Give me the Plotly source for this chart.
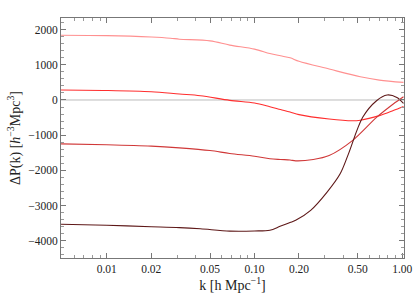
import plotly.graph_objects as go

k1 = [0.0049, 0.01, 0.02, 0.027, 0.031, 0.05, 0.068, 0.1, 0.127, 0.15, 0.174, 0.2, 0.32, 0.52, 0.7, 1.02]
v1 = [1840, 1830, 1790, 1756, 1728, 1680, 1560, 1445, 1320, 1255, 1200, 1100, 880, 660, 566, 500]

k2 = [0.0049, 0.01, 0.02, 0.031, 0.043, 0.068, 0.1, 0.127, 0.15, 0.174, 0.2, 0.32, 0.46, 0.52, 0.7, 0.87, 1.02]
v2 = [283, 270, 235, 170, 122, -10, -85, -190, -270, -340, -416, -540, -590, -575, -445, -300, -185]

k3 = [0.0049, 0.01, 0.02, 0.031, 0.05, 0.068, 0.1, 0.127, 0.15, 0.174, 0.19, 0.25, 0.32, 0.46, 0.67, 0.87, 1.02]
v3 = [-1246, -1270, -1310, -1360, -1436, -1520, -1597, -1670, -1691, -1705, -1730, -1691, -1578, -1153, -493, -113, 93]

k4 = [0.0049, 0.01, 0.02, 0.031, 0.043, 0.068, 0.1, 0.127, 0.149, 0.174, 0.19, 0.24, 0.31, 0.38, 0.43, 0.54, 0.67, 0.79, 0.92, 1.02]
v4 = [-3533, -3560, -3600, -3626, -3660, -3725, -3722, -3700, -3590, -3484, -3419, -3136, -2617, -2096, -1560, -493, -20, 142, 74, -96]

colors = ["#FF9090", "#FF2E2E", "#D03838", "#5E1818"]

x_tickvals = [0.01, 0.02, 0.05, 0.1, 0.2, 0.5, 1.0]
x_ticktext = ["0.01", "0.02", "0.05", "0.10", "0.20", "0.50", "1.00"]
x_minor = [0.006, 0.007, 0.008, 0.009, 0.03, 0.04, 0.06, 0.07, 0.08, 0.09, 0.3, 0.4, 0.6, 0.7, 0.8, 0.9]

fig = go.Figure()
fig.add_shape(type="line", xref="paper", x0=0, x1=1, yref="y", y0=0, y1=0,
              line=dict(color="#BBBBBB", width=1), layer="below")
for kk, vv, c in zip([k1, k2, k3, k4], [v1, v2, v3, v4], colors):
    fig.add_trace(go.Scatter(x=kk, y=vv, mode="lines",
                             line=dict(color=c, width=1.1, shape="spline", smoothing=0.9),
                             showlegend=False, hoverinfo="skip"))

font = dict(family="Liberation Serif, Times New Roman, serif", size=11.5, color="#222222")
fig.update_layout(
    width=415, height=301,
    margin=dict(l=61, r=11, t=18, b=43),
    paper_bgcolor="white", plot_bgcolor="white",
    font=font,
    xaxis=dict(type="log", range=[-2.31, 0.012], tickvals=x_tickvals, ticktext=x_ticktext,
               ticks="inside", ticklen=5, tickcolor="#777777", tickwidth=1,
               minor=dict(tickvals=x_minor, ticks="inside", ticklen=3, tickcolor="#999999"),
               showline=True, linecolor="#777777", linewidth=1, mirror="ticks",
               showgrid=False, zeroline=False, automargin=False,
               title=dict(text="k [h Mpc<sup>−1</sup>]", standoff=6)),
    yaxis=dict(range=[-4490, 2330], tickvals=[-4000, -3000, -2000, -1000, 0, 1000, 2000],
               ticktext=["−4000", "−3000", "−2000", "−1000", "0", "1000", "2000"],
               ticks="inside", ticklen=5, tickcolor="#777777", tickwidth=1,
               minor=dict(dtick=200, ticks="inside", ticklen=3, tickcolor="#999999"),
               showline=True, linecolor="#777777", linewidth=1, mirror="ticks",
               showgrid=False, zeroline=False, automargin=False,
               title=dict(text="ΔP(k) [<i>h</i><sup>−3</sup>Mpc<sup>3</sup>]", standoff=4)),
)
fig.write_html("out.html", config={"displayModeBar": False},
               post_script="document.body.style.margin='0';document.body.style.overflow='hidden';")
